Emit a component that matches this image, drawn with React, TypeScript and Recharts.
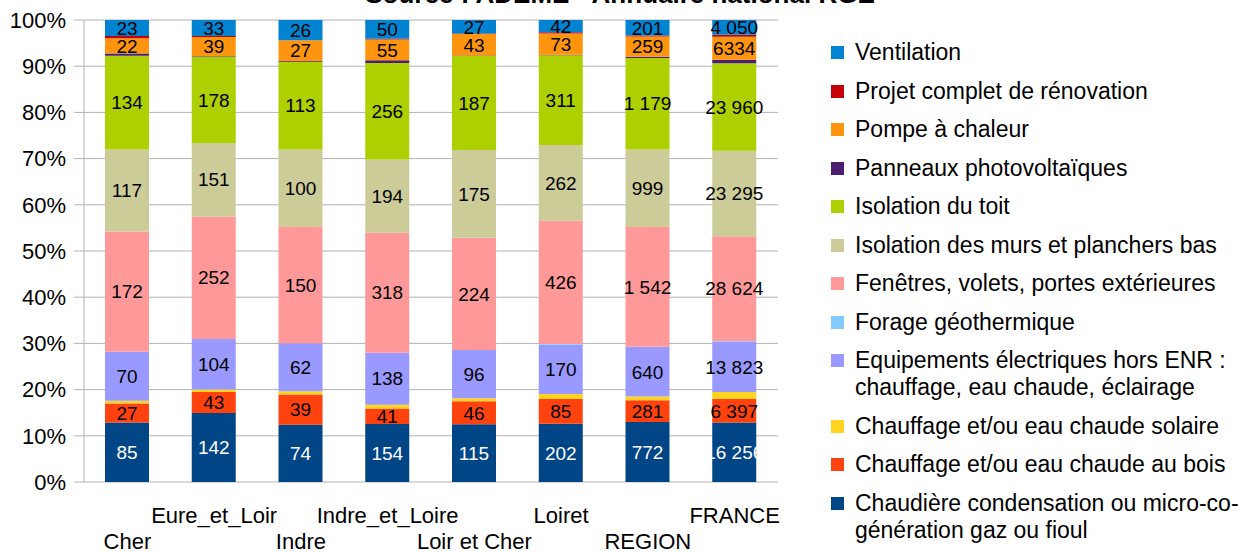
import { BarChart, Bar, XAxis, YAxis, CartesianGrid, Legend, LabelList } from 'recharts'

const FONT = '"Liberation Sans", Arial, sans-serif'
const GRID = '#b3b3b3'

const categories = ['Cher', 'Eure_et_Loir', 'Indre', 'Indre_et_Loire', 'Loir et Cher', 'Loiret', 'REGION', 'FRANCE']

// stacked from bottom to top
const chaudiere = [85, 142, 74, 154, 115, 202, 772, 16256]
const bois = [27, 43, 39, 41, 46, 85, 281, 6397]
const solaire = [4, 5, 4, 10, 6, 18, 47, 1900]
const equipements = [70, 104, 62, 138, 96, 170, 640, 13823]
const forage = [0, 0, 0, 0, 0, 3, 3, 150]
const fenetres = [172, 252, 150, 318, 224, 426, 1542, 28624]
const murs = [117, 151, 100, 194, 175, 262, 999, 23295]
const toit = [134, 178, 113, 256, 187, 311, 1179, 23960]
const photovoltaique = [3, 1, 1, 7, 1, 2, 15, 900]
const pompe = [22, 39, 27, 55, 43, 73, 259, 6334]
const projet = [3, 2, 0, 2, 1, 5, 13, 500]
const ventilation = [23, 33, 26, 50, 27, 42, 201, 4050]

const percentTicks = [0, 0.1, 0.2, 0.3, 0.4, 0.5, 0.6, 0.7, 0.8, 0.9, 1]

type Series = { key: string; name: string; color: string; values: number[]; label?: string; plain?: boolean }

const SERIES: Series[] = [
  { key: 'chaudiere', name: 'Chaudière condensation ou micro-co-\ngénération gaz ou fioul', color: '#004586', values: chaudiere, label: '#ffffff' },
  { key: 'bois', name: 'Chauffage et/ou eau chaude au bois', color: '#ff420e', values: bois, label: '#000000' },
  { key: 'solaire', name: 'Chauffage et/ou eau chaude solaire', color: '#ffd320', values: solaire },
  { key: 'equipements', name: 'Equipements électriques hors ENR :\nchauffage, eau chaude, éclairage', color: '#9999ff', values: equipements, label: '#000000' },
  { key: 'forage', name: 'Forage géothermique', color: '#83caff', values: forage },
  { key: 'fenetres', name: 'Fenêtres, volets, portes extérieures', color: '#ff9999', values: fenetres, label: '#000000' },
  { key: 'murs', name: 'Isolation des murs et planchers bas', color: '#cccc99', values: murs, label: '#000000' },
  { key: 'toit', name: 'Isolation du toit', color: '#aecf00', values: toit, label: '#000000' },
  { key: 'pv', name: 'Panneaux photovoltaïques', color: '#4b1f6f', values: photovoltaique },
  // the source sheet prints this one without a thousands separator
  { key: 'pompe', name: 'Pompe à chaleur', color: '#ff950e', values: pompe, label: '#000000', plain: true },
  { key: 'projet', name: 'Projet complet de rénovation', color: '#c5000b', values: projet },
  { key: 'ventilation', name: 'Ventilation', color: '#0084d1', values: ventilation, label: '#000000' },
]

const data = categories.map((name, i) => {
  const row: any = { name }
  SERIES.forEach((s) => { row[s.key] = s.values[i] })
  return row
})

const fmt = (v: any) => String(v).replace(/\B(?=(\d{3})+(?!\d))/g, ' ')

const makeLabel = (color: string, plain?: boolean) => (props: any) => {
  const { x, y, width, height, value } = props
  if (value == null) return null
  return (
    <text
      x={Number(x) + Number(width) / 2}
      y={Number(y) + Number(height) / 2}
      dy="0.355em"
      textAnchor="middle"
      fontSize={19}
      fontFamily={FONT}
      fill={color}
    >
      {plain ? String(value) : fmt(value)}
    </text>
  )
}

const CategoryTick = ({ x, y, payload, index }: any) => {
  const i = payload?.index ?? index ?? 0
  return (
    <text x={x} y={y + (i % 2 === 0 ? 67 : 41)} textAnchor="middle" fontSize={22} fontFamily={FONT} fill="#000">
      {payload.value}
    </text>
  )
}

const LegendBox = () => (
  <div style={{ fontFamily: FONT, fontSize: 23, color: '#000' }}>
    {[...SERIES].reverse().map((s) => (
      <div key={s.key} style={{ display: 'flex', alignItems: 'flex-start', lineHeight: '27px', marginBottom: 11.5 }}>
        <div style={{ width: 13, height: 13, background: s.color, marginTop: 7, marginRight: 11, flexShrink: 0 }} />
        <div style={{ whiteSpace: 'pre-line' }}>{s.name}</div>
      </div>
    ))}
  </div>
)

export default function App() {
  return (
    <div style={{ position: 'absolute', left: 0, top: 0, width: 1243, height: 552, overflow: 'hidden', background: '#fff', fontFamily: FONT }}>
      <div style={{ position: 'absolute', left: 0, width: 1240, top: -19, textAlign: 'center', fontWeight: 'bold', fontSize: 26, lineHeight: '26px' }}>
        Source : ADEME - Annuaire national RGE
      </div>
      <BarChart
        width={1243}
        height={552}
        data={data}
        stackOffset="expand"
        margin={{ top: 20, right: 465, left: 14, bottom: 0 }}
      >
        <CartesianGrid vertical={false} stroke={GRID} xAxisId="cat" />
        <XAxis
          xAxisId="edge"
          type="number"
          domain={[0, categories.length]}
          ticks={categories.map((_, i) => i).concat(categories.length)}
          height={0}
          tick={false}
          tickSize={10}
          axisLine={{ stroke: GRID }}
          tickLine={{ stroke: GRID }}
        />
        <XAxis
          xAxisId="cat"
          dataKey="name"
          interval={0}
          height={70}
          axisLine={false}
          tickLine={false}
          tickSize={0}
          tickMargin={0}
          tick={<CategoryTick />}
        />
        <YAxis
          width={70}
          domain={[0, 1]}
          ticks={percentTicks}
          tickFormatter={(v) => `${Math.round(v * 100)}%`}
          tickSize={10}
          tickMargin={8}
          axisLine={{ stroke: GRID }}
          tickLine={{ stroke: GRID }}
          tick={{ fontSize: 22, fill: '#000', fontFamily: FONT }}
        />
        <YAxis
          yAxisId="r"
          orientation="right"
          width={0}
          domain={[0, 1]}
          tick={false}
          tickLine={false}
          axisLine={{ stroke: GRID }}
        />
        <Legend
          layout="vertical"
          align="center"
          verticalAlign="middle"
          content={<LegendBox />}
          wrapperStyle={{ left: 831, top: 39, width: 412 }}
        />
        {SERIES.map((s) => (
          <Bar
            key={s.key}
            xAxisId="cat"
            dataKey={s.key}
            name={s.name}
            stackId="a"
            fill={s.color}
            barSize={44}
            isAnimationActive={false}
          >
            {s.label && <LabelList dataKey={s.key} content={makeLabel(s.label, s.plain)} />}
          </Bar>
        ))}
      </BarChart>
    </div>
  )
}
